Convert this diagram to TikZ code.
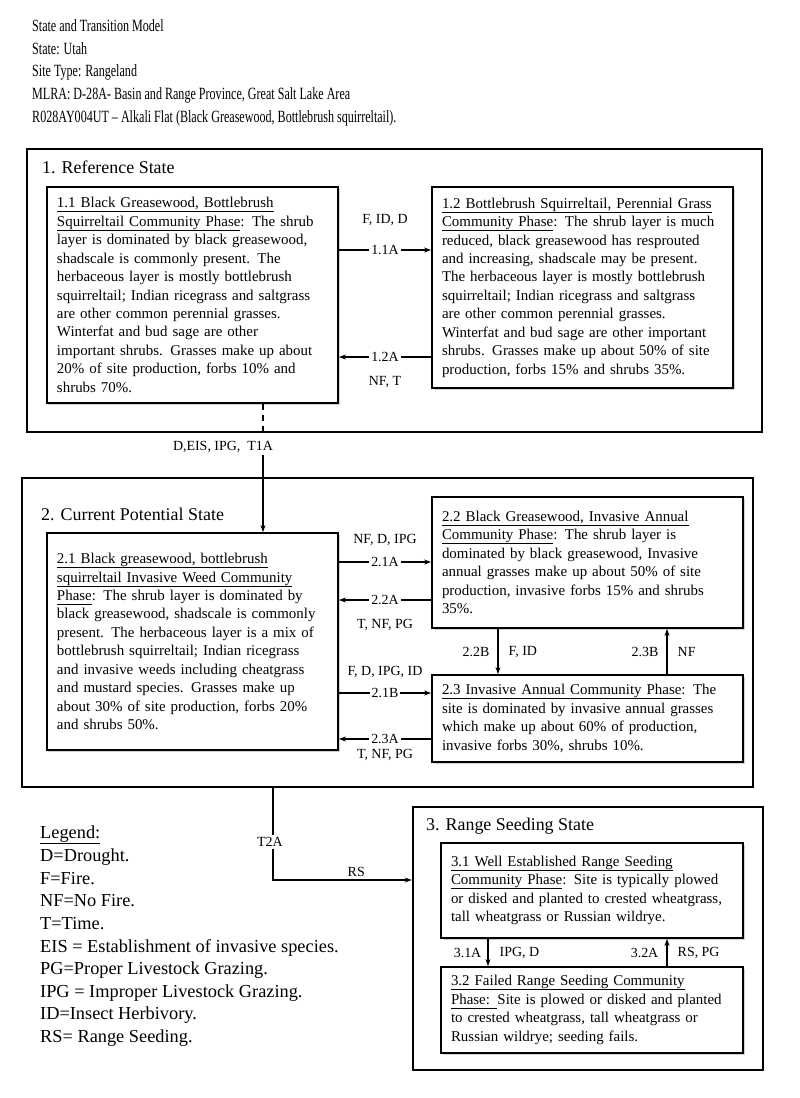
\documentclass[tikz,border=0pt]{standalone}
\usepackage{fontspec}
\setmainfont{Liberation Serif}
\newfontfamily\headfont{Liberation Serif}[FakeStretch=0.705]
\newcommand\uln[1]{\underline{\smash{#1}\vphantom{d,}}}
\usetikzlibrary{arrows.meta,shadows}

\tikzset{
  statebox/.style={draw,line width=2.5bp,inner sep=0pt},
  phase/.style={draw,line width=1.8bp,fill=white,
    drop shadow={shadow xshift=1.5bp,shadow yshift=-1.5bp,opacity=.35},
    align=left,inner xsep=10bp,inner ysep=4bp,
    font=\fontsize{15}{18.5}\selectfont},
  title/.style={anchor=base west,inner sep=0pt,font=\fontsize{18}{22}\selectfont},
  lbl/.style={inner sep=2bp,font=\fontsize{14}{16}\selectfont},
  tag/.style={lbl,fill=white},
  trans/.style={->,line width=1.4bp},
}

\begin{document}
\begin{tikzpicture}[x=1bp,y=-1bp,>={Stealth[length=7bp,width=5bp]}]
  \useasboundingbox[fill=white] (0,0) rectangle (800,1098);

  % header
  \node[anchor=north west,align=left,inner sep=0pt,
    font=\headfont\fontsize{17.2}{23}\selectfont] (head) at (32,19)
    {State and Transition Model\\
     State: Utah\\
     Site Type:  Rangeland\\
     MLRA: D-28A- Basin and Range Province, Great Salt Lake Area\\
     R028AY004UT – Alkali Flat (Black Greasewood, Bottlebrush squirreltail).};

  % states
  \node[statebox,minimum width=735bp,minimum height=283bp] (st1) at (394.5,290.5) {};
  \node[statebox,minimum width=731bp,minimum height=309bp] (st2) at (387.5,632.5) {};
  \node[statebox,minimum width=350bp,minimum height=263bp] (st3) at (588,938.5) {};
  \node[title] (st1t) at (42,173) {1. Reference State};
  \node[title] (st2t) at (41,520) {2. Current Potential State};
  \node[title] (st3t) at (426,830) {3. Range Seeding State};

  % community phases
  \node[phase,text width=271bp,minimum height=216bp] (s11) at (192.5,295)
    {\uln{1.1 Black Greasewood, Bottlebrush}\\
     \uln{Squirreltail Community Phase}: The shrub\\
     layer is dominated by black greasewood,\\
     shadscale is commonly present.  The\\
     herbaceous layer is mostly bottlebrush\\
     squirreltail; Indian ricegrass and saltgrass\\
     are other common perennial grasses.\\
     Winterfat and bud sage are other\\
     important shrubs.  Grasses make up about\\
     20\% of site production, forbs 10\% and\\
     shrubs 70\%.};
  \node[phase,text width=281bp,minimum height=201bp] (s12) at (582.5,287.5)
    {\uln{1.2 Bottlebrush Squirreltail,  Perennial Grass}\\
     \uln{Community Phase}: The shrub layer is much\\
     reduced, black greasewood has resprouted\\
     and increasing, shadscale may be present.\\
     The herbaceous layer is mostly bottlebrush\\
     squirreltail; Indian ricegrass and saltgrass\\
     are other common perennial grasses.\\
     Winterfat and bud sage are other important\\
     shrubs.  Grasses make up about 50\% of site\\
     production, forbs 15\% and shrubs 35\%.};
  \node[phase,text width=271bp,minimum height=217bp] (s21) at (192.5,641.5)
    {\uln{2.1 Black greasewood, bottlebrush}\\
     \uln{squirreltail Invasive Weed Community}\\
     \uln{Phase}: The shrub layer is  dominated by\\
     black greasewood, shadscale is commonly\\
     present.  The herbaceous layer is a mix  of\\
     bottlebrush squirreltail; Indian ricegrass\\
     and invasive weeds including  cheatgrass\\
     and mustard species.  Grasses make up\\
     about 30\% of site production, forbs 20\%\\
     and shrubs 50\%.};
  \node[phase,text width=291bp,minimum height=131bp] (s22) at (587.5,562.5)
    {\uln{2.2 Black Greasewood, Invasive Annual}\\
     \uln{Community Phase}: The shrub layer is\\
     dominated by black greasewood,  Invasive\\
     annual grasses make up about 50\% of site\\
     production, invasive forbs 15\% and shrubs\\
     35\%.};
  \node[phase,text width=291bp,minimum height=87bp] (s23) at (587.5,718.5)
    {\uln{2.3  Invasive Annual Community Phase}: The\\
     site is dominated by invasive annual grasses\\
     which make up about 60\% of production,\\
     invasive forbs 30\%, shrubs 10\%.};
  \node[phase,text width=282bp,minimum height=95bp] (s31) at (592,890.5)
    {\uln{3.1 Well Established Range Seeding}\\
     \uln{Community Phase}: Site is typically plowed\\
     or disked  and planted to crested wheatgrass,\\
     tall wheatgrass or Russian wildrye.};
  \node[phase,text width=282bp,minimum height=86bp] (s32) at (592,1010)
    {\uln{3.2 Failed Range Seeding Community}\\
     \uln{Phase: }Site is plowed or disked  and planted\\
     to crested wheatgrass, tall wheatgrass or\\
     Russian wildrye;  seeding fails.};

  % transitions within states
  \draw[trans] (s11.east |- 0,250) -- node[tag]{1.1A}
    node[lbl,yshift=30bp]{F, ID, D} (s12.west |- 0,250);
  \draw[trans] (s12.west |- 0,357) -- node[tag]{1.2A}
    node[lbl,yshift=-25bp]{NF, T} (s11.east |- 0,357);
  \draw[trans] (s21.east |- 0,562) -- node[tag]{2.1A}
    node[lbl,yshift=22bp]{NF, D, IPG} (s22.west |- 0,562);
  \draw[trans] (s22.west |- 0,600) -- node[tag]{2.2A}
    node[lbl,yshift=-25bp]{T, NF, PG} (s21.east |- 0,600);
  \draw[trans] (s21.east |- 0,693) -- node[tag]{2.1B}
    node[lbl,yshift=21bp]{F, D, IPG, ID} (s23.west |- 0,693);
  \draw[trans] (s23.west |- 0,739) -- node[tag]{2.3A}
    node[lbl,yshift=-16bp]{T, NF, PG} (s21.east |- 0,739);
  \draw[trans] (s22.south -| 498,0) -- node[lbl,left=6bp]{2.2B}
    node[lbl,right=8bp]{F, ID} (s23.north -| 498,0);
  \draw[trans] (s23.north -| 667,0) -- node[lbl,left=6bp]{2.3B}
    node[lbl,right=8bp]{NF} (s22.south -| 667,0);
  \draw[trans] (s31.south -| 488,0) -- node[lbl,left=4bp]{3.1A}
    node[lbl,right=9bp]{IPG, D} (s32.north -| 488,0);
  \draw[trans] (s32.north -| 667,0) -- node[lbl,left=6bp]{3.2A}
    node[lbl,right=8bp]{RS, PG} (s31.south -| 667,0);

  % transitions between states
  \coordinate (tx) at (263,0);
  \coordinate (tb) at (273,0);
  \node[lbl] (t1) at (223,447) {D,EIS, IPG,\ \ T1A};
  \draw[line width=1.6bp,dash pattern=on 6bp off 5bp] (s11.south -| tx) -- (st1.south -| tx);
  \draw[trans] (t1.south -| tx) -- (s21.north -| tx);
  \node[lbl] (t2) at (270,842) {T2A};
  \draw[line width=1.4bp] (st2.south -| tb) -- (t2.north -| tb);
  \draw[trans] (t2.south -| tb) |- node[lbl,pos=.8,above=1bp]{RS} (st3.west |- 0,880);

  % legend
  \node[anchor=north west,align=left,inner sep=0pt,
    font=\fontsize{18.4}{22.7}\selectfont] (legend) at (40,826)
    {\uln{Legend:}\\
     D=Drought.\\
     F=Fire.\\
     NF=No Fire.\\
     T=Time.\\
     EIS = Establishment  of invasive  species.\\
     PG=Proper Livestock Grazing.\\
     IPG = Improper Livestock Grazing.\\
     ID=Insect Herbivory.\\
     RS= Range Seeding.};
\end{tikzpicture}
\end{document}
